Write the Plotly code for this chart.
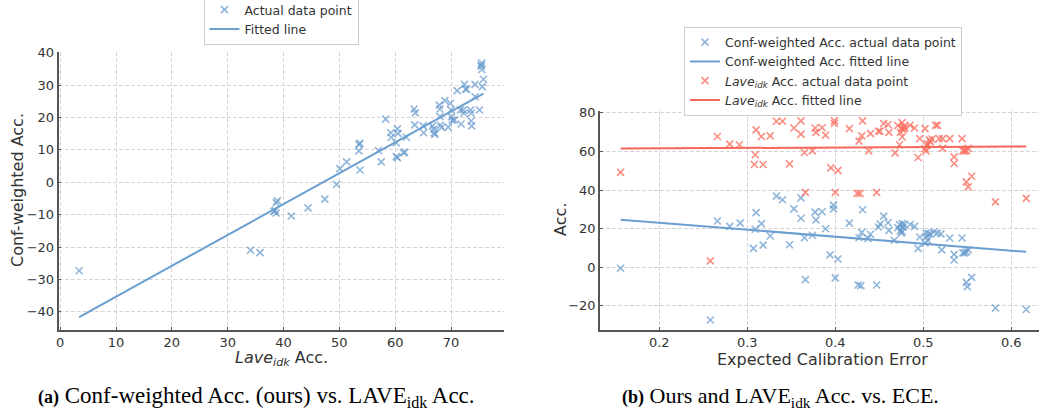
import plotly.graph_objects as go
import numpy as np

# ---------------- Panel (a): LAVE_idk Acc. vs Conf-weighted Acc. ----------------
left_lave = [3.4, 34.1, 35.8, 38.3, 38.7, 38.5, 38.9, 38.7, 41.4, 44.4, 47.4, 49.5,
             50.1, 51.3, 53.5, 53.7, 53.5, 53.7, 57.0, 57.5, 58.3, 59.2, 59.3, 60.4,
             60.5, 60.2, 60.2, 60.4, 61.5, 61.7, 62.0, 63.4, 63.6, 63.5, 65.0, 65.1,
             66.7, 66.9, 67.0, 67.1, 67.9, 68.0, 68.0, 68.1, 68.3, 68.9, 69.5, 69.9,
             70.0, 70.1, 70.2, 70.6, 71.1, 71.7, 71.8, 72.4, 72.6, 72.8, 72.2, 72.3,
             73.5, 73.6, 73.6, 73.7, 74.3, 74.3, 75.1, 75.5, 75.4, 75.5, 75.4, 75.6, 75.8]
left_conf = [-27.3, -21.0, -21.7, -9.0, -9.5, -8.7, -5.7, -6.3, -10.4, -7.9, -5.2, -0.7,
             4.2, 6.3, 11.7, 12.0, 9.7, 3.8, 9.8, 6.3, 19.5, 15.3, 13.9, 16.5,
             15.1, 12.2, 7.9, 7.6, 9.1, 9.3, 13.9, 22.6, 21.4, 17.7, 17.4, 15.3,
             17.4, 16.4, 15.3, 14.8, 23.8, 22.6, 20.3, 17.6, 16.9, 25.2, 17.0, 24.4,
             22.3, 20.2, 19.2, 19.2, 28.3, 22.3, 18.0, 30.2, 28.7, 28.7, 22.3, 21.3,
             22.3, 21.3, 18.9, 17.4, 30.2, 26.4, 22.3, 36.8, 35.8, 34.8, 36.2, 29.5, 31.8]
left_fit = (0.953, -44.85)  # slope, intercept

# ---------------- Panel (b): Acc. vs ECE ----------------
ece_conf = [0.156, 0.258, 0.266, 0.280, 0.292, 0.307, 0.309, 0.310, 0.316, 0.318, 0.326,
            0.333, 0.340, 0.348, 0.353, 0.361, 0.361, 0.365, 0.366, 0.374, 0.377, 0.378,
            0.385, 0.389, 0.394, 0.398, 0.398, 0.400, 0.403, 0.416, 0.426, 0.429, 0.427,
            0.430, 0.431, 0.437, 0.440, 0.447, 0.449, 0.451, 0.455, 0.460, 0.461, 0.467,
            0.471, 0.473, 0.474, 0.475, 0.476, 0.477, 0.478, 0.476, 0.485, 0.490, 0.494,
            0.496, 0.502, 0.503, 0.504, 0.505, 0.506, 0.508, 0.512, 0.516, 0.520, 0.521,
            0.530, 0.535, 0.535, 0.544, 0.545, 0.547, 0.549, 0.551, 0.555, 0.549, 0.550,
            0.582, 0.617]
conf_acc = [-0.5, -27.3, 24.0, 21.2, 22.9, 9.8, 19.7, 28.3, 22.6, 11.5, 16.2,
            36.9, 35.0, 11.7, 30.3, 36.0, 25.4, 15.3, -6.4, 16.6, 28.6, 24.6,
            28.8, 20.0, 6.4, 32.2, 30.3, -5.5, 4.3, 22.9, -9.2, -9.5, 15.3,
            18.1, 29.8, 15.0, 17.1, -9.2, 20.9, 22.4, 26.5, 23.1, 19.1, 14.0,
            20.5, 22.2, 19.0, 17.8, 22.6, 20.8, 22.2, 18.5, 22.2, 21.2, 9.8,
            15.7, 12.5, 17.8, 15.8, 14.0, 17.5, 17.2, 18.3, 17.8, 17.3, 9.0,
            15.2, 6.7, 3.8, 15.2, 7.5, 7.5, 8.0, 9.0, -5.2, -7.8, -10.0,
            -21.1, -21.9]
ece_lave = [0.156, 0.258, 0.266, 0.280, 0.291, 0.308, 0.318, 0.309, 0.310, 0.316, 0.326,
            0.333, 0.340, 0.348, 0.353, 0.361, 0.361, 0.365, 0.366, 0.374, 0.377, 0.378,
            0.385, 0.389, 0.395, 0.399, 0.399, 0.403, 0.400, 0.416, 0.425, 0.428, 0.427,
            0.430, 0.431, 0.438, 0.440, 0.447, 0.449, 0.451, 0.455, 0.460, 0.461, 0.468,
            0.471, 0.473, 0.474, 0.475, 0.476, 0.477, 0.476, 0.478, 0.479, 0.485, 0.490,
            0.494, 0.496, 0.502, 0.502, 0.503, 0.504, 0.505, 0.507, 0.508, 0.510, 0.514,
            0.516, 0.518, 0.522, 0.522, 0.530, 0.535, 0.535, 0.544, 0.545, 0.547, 0.549,
            0.551, 0.555, 0.549, 0.551, 0.582, 0.617]
lave_acc = [49.2, 3.3, 67.8, 63.8, 63.5, 53.3, 53.3, 58.3, 71.2, 67.8, 68.1,
            75.7, 75.7, 53.6, 72.2, 75.9, 69.0, 59.5, 38.8, 60.3, 72.2, 69.9,
            72.3, 68.5, 51.5, 75.9, 74.5, 50.2, 38.8, 71.9, 38.3, 38.3, 65.4,
            68.1, 75.9, 60.3, 69.3, 38.8, 70.5, 70.5, 74.5, 74.0, 69.9, 59.3,
            73.5, 63.5, 70.0, 72.0, 75.0, 71.5, 67.5, 73.0, 72.0, 73.6, 72.2,
            56.9, 66.7, 71.9, 61.5, 60.3, 63.0, 64.0, 66.0, 65.0, 66.5, 73.6,
            73.6, 66.7, 66.7, 61.6, 66.7, 57.2, 53.8, 66.7, 60.3, 60.3, 60.3,
            61.6, 47.2, 44.3, 41.7, 33.9, 35.7]
conf_fit = (-36.2, 30.34)
lave_fit = (2.38, 61.13)

BLUE_M = "rgba(100,152,204,0.72)"
BLUE_L = "#6a9fd0"
RED_M = "rgba(250,110,95,0.78)"
RED_L = "#f4685a"
FONT = "DejaVu Sans"
TXT = "#333333"

W, H = 1039, 410

def fitline(xs, coef):
    xa = np.array([min(xs), max(xs)])
    return xa, coef[0] * xa + coef[1]

fig = go.Figure()

mk = lambda c: dict(symbol="x-thin", size=7, line=dict(color=c, width=1.6), color=c)

# panel (a)
fig.add_trace(go.Scatter(x=left_lave, y=left_conf, mode="markers", marker=mk(BLUE_M),
                         name="Actual data point", xaxis="x", yaxis="y", legend="legend"))
fx, fy = fitline(left_lave, left_fit)
fig.add_trace(go.Scatter(x=fx, y=fy, mode="lines", line=dict(color=BLUE_L, width=2),
                         name="Fitted line", xaxis="x", yaxis="y", legend="legend"))

# panel (b)
fig.add_trace(go.Scatter(x=ece_conf, y=conf_acc, mode="markers", marker=mk(BLUE_M),
                         name="Conf-weighted Acc. actual data point",
                         xaxis="x2", yaxis="y2", legend="legend2"))
fx, fy = fitline(ece_conf, conf_fit)
fig.add_trace(go.Scatter(x=fx, y=fy, mode="lines", line=dict(color=BLUE_L, width=2),
                         name="Conf-weighted Acc. fitted line",
                         xaxis="x2", yaxis="y2", legend="legend2"))
fig.add_trace(go.Scatter(x=ece_lave, y=lave_acc, mode="markers", marker=mk(RED_M),
                         name="<i>Lave<sub>idk</sub></i> Acc. actual data point",
                         xaxis="x2", yaxis="y2", legend="legend2"))
fx, fy = fitline(ece_lave, lave_fit)
fig.add_trace(go.Scatter(x=fx, y=fy, mode="lines", line=dict(color=RED_L, width=2),
                         name="<i>Lave<sub>idk</sub></i> Acc. fitted line",
                         xaxis="x2", yaxis="y2", legend="legend2"))

def px_x(p):
    return p / W

def px_y(p):
    return 1 - p / H

axis_common = dict(
    showline=True, linecolor="#555555", linewidth=1.5, mirror=False,
    showgrid=True, gridcolor="#d6d6d6", griddash="4px,2px", gridwidth=0.8,
    zeroline=False, ticks="inside", ticklen=3, tickcolor="#555555",
    tickfont=dict(family=FONT, size=13, color=TXT), automargin=False,
)

fig.update_layout(
    width=W, height=H,
    margin=dict(l=0, r=0, t=0, b=0, autoexpand=False),
    paper_bgcolor="white", plot_bgcolor="white",
    font=dict(family=FONT, color=TXT),
    xaxis=dict(domain=[px_x(58.5), px_x(503.5)], range=[-0.3, 79.4],
               tickvals=[0, 10, 20, 30, 40, 50, 60, 70], anchor="y", **axis_common),
    yaxis=dict(domain=[px_y(330), px_y(51.7)], range=[-45.6, 40.3],
               tickvals=[-40, -30, -20, -10, 0, 10, 20, 30, 40], anchor="x", **axis_common),
    xaxis2=dict(domain=[px_x(600), 1.0], range=[0.1326, 0.6315],
                tickvals=[0.2, 0.3, 0.4, 0.5, 0.6], anchor="y2", **axis_common),
    yaxis2=dict(domain=[px_y(330), px_y(111)], range=[-32.5, 81.0],
                tickvals=[-20, 0, 20, 40, 60, 80], anchor="x2", **axis_common),
    legend=dict(x=px_x(281), y=px_y(-6), xanchor="center", yanchor="top",
                bgcolor="white", bordercolor="#cccccc", borderwidth=1,
                font=dict(family=FONT, size=12.5, color=TXT), tracegroupgap=0),
    legend2=dict(x=px_x(823), y=px_y(26.5), xanchor="center", yanchor="top",
                 bgcolor="white", bordercolor="#cccccc", borderwidth=1,
                 font=dict(family=FONT, size=12.5, color=TXT), tracegroupgap=0),
    showlegend=True,
)

SERIF = "Liberation Serif"
annos = [
    dict(text="Conf-weighted Acc.", x=px_x(17), y=px_y(190), textangle=-90,
         font=dict(family=FONT, size=16, color=TXT)),
    dict(text="<i>Lave<sub>idk</sub></i> Acc.", x=px_x(281), y=px_y(358),
         font=dict(family=FONT, size=16, color=TXT)),
    dict(text="Acc.", x=px_x(560), y=px_y(220), textangle=-90,
         font=dict(family=FONT, size=16, color=TXT)),
    dict(text="Expected Calibration Error", x=px_x(822), y=px_y(359),
         font=dict(family=FONT, size=16, color=TXT)),
    dict(text="<span style='font-size:18px'><b>(a)</b></span> Conf-weighted Acc. (ours) vs. LAVE<sub>idk</sub> Acc.",
         x=px_x(256), y=px_y(397), font=dict(family=SERIF, size=23, color="black")),
    dict(text="<span style='font-size:18px'><b>(b)</b></span> Ours and LAVE<sub>idk</sub> Acc. vs. ECE.",
         x=px_x(780), y=px_y(397), font=dict(family=SERIF, size=22, color="black")),
]
for a in annos:
    a.update(xref="paper", yref="paper", showarrow=False, xanchor="center", yanchor="middle")
    fig.add_annotation(**a)

fig.write_html("out.html", config={"displayModeBar": False},
               post_script="document.body.style.margin='0';")
